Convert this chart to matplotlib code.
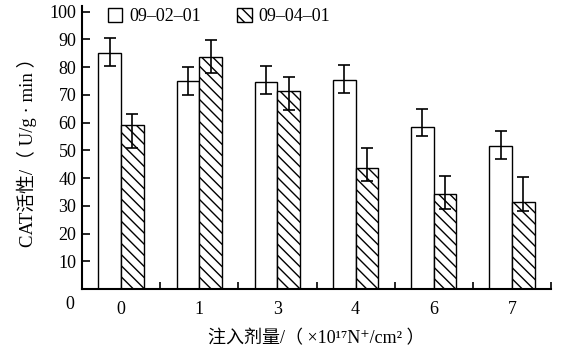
import numpy as np
import matplotlib
matplotlib.use('Agg')
import matplotlib.pyplot as plt
from matplotlib.patches import Patch

plt.rcParams['font.family'] = ['Liberation Serif', 'Noto Sans CJK SC', 'DejaVu Sans']
plt.rcParams['hatch.linewidth'] = 1.0

doses = ['0', '1', '3', '4', '6', '7']
series_names = ['09–02–01', '09–04–01']

# 09-02-01 (white bars)
v1 = [85.0, 75.0, 74.5, 75.5, 58.5, 51.5]
v1_lo = [80.3, 70.0, 70.2, 70.5, 55.0, 46.8]
v1_hi = [90.4, 80.0, 80.3, 80.6, 64.8, 56.8]

# 09-04-01 (hatched bars)
v2 = [59.0, 83.5, 71.3, 43.5, 34.1, 31.3]
v2_lo = [51.0, 77.7, 64.4, 38.8, 28.7, 28.0]
v2_hi = [63.0, 89.6, 76.3, 50.7, 40.6, 40.3]

fig = plt.figure(figsize=(5.66, 3.58), dpi=100)
ax = fig.add_axes([82/566, 1-289/358, (551-82)/566, 283/358])

x = np.arange(len(doses)) + 0.5
w = 0.29

err1 = [np.array(v1) - np.array(v1_lo), np.array(v1_hi) - np.array(v1)]
err2 = [np.array(v2) - np.array(v2_lo), np.array(v2_hi) - np.array(v2)]

ax.bar(x - w/2, v1, w, color='white', edgecolor='black', linewidth=1.0,
       yerr=err1, capsize=4.5, error_kw=dict(elinewidth=1.2, capthick=1.2, ecolor='black'))
ax.bar(x + w/2, v2, w, color='white', edgecolor='black', linewidth=1.0, hatch='\\\\\\',
       yerr=err2, capsize=4.5, error_kw=dict(elinewidth=1.2, capthick=1.2, ecolor='black'))

ax.set_xlim(0, len(doses))
ax.set_ylim(0, 102)

ax.spines['top'].set_visible(False)
ax.spines['right'].set_visible(False)
ax.spines['left'].set_linewidth(1.5)
ax.spines['bottom'].set_linewidth(1.5)

ax.set_yticks(np.arange(10, 101, 10))
ax.tick_params(axis='y', direction='in', length=6, width=1.2, labelsize=13, pad=4)
ax.set_xticks(x)
ax.set_xticklabels(doses)
ax.tick_params(axis='x', which='major', length=0, labelsize=13, pad=9)
ax.set_xticks(np.arange(1, len(doses) + 1), minor=True)
ax.tick_params(axis='x', which='minor', direction='in', length=5, width=1.2)

ax.annotate('0', xy=(0, 0), xycoords='axes fraction', xytext=(-9, -11),
            textcoords='offset points', ha='center', va='center', fontsize=13)

ax.set_xlabel('注入剂量/（ ×10¹⁷N⁺/cm² ）', fontsize=13, labelpad=8)
ax.set_ylabel('CAT活性/（ U/g · min ）', fontsize=13.5, labelpad=9)

handles = [Patch(facecolor='white', edgecolor='black', linewidth=1.0),
           Patch(facecolor='white', edgecolor='black', linewidth=1.0, hatch='\\\\\\')]
ax.legend(handles, series_names, ncol=2, frameon=False, fontsize=13,
          loc='upper left', bbox_to_anchor=(0.02, 1.05), handlelength=0.8,
          handleheight=0.8, handletextpad=0.4, columnspacing=2.0)

fig.savefig('out.png', dpi=100)
